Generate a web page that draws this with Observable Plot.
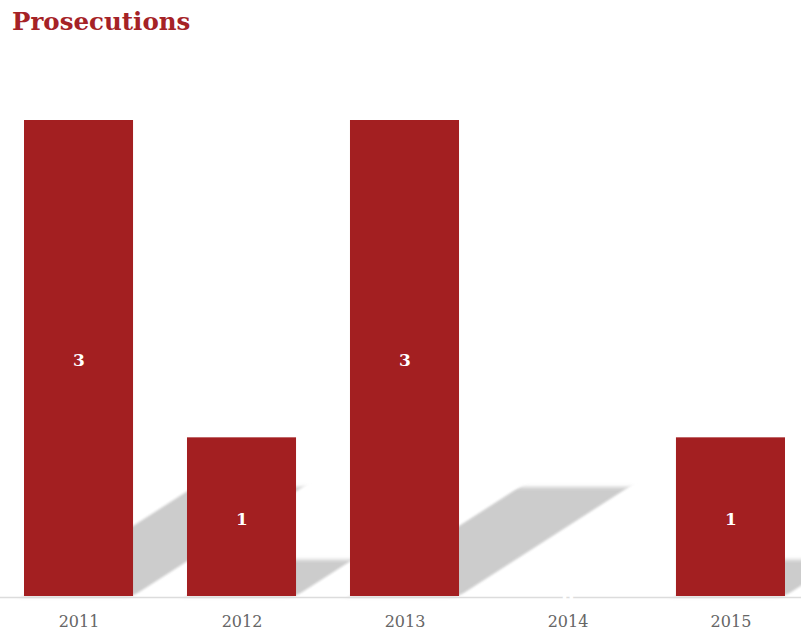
<!DOCTYPE html>
<html>
<head>
<meta charset="utf-8">
<script src="https://cdn.jsdelivr.net/npm/d3@7"></script>
<script src="https://cdn.jsdelivr.net/npm/@observablehq/plot@0.6"></script>
<style>
  html, body { margin: 0; padding: 0; background: #fff; }
  #title {
    height: 48px; box-sizing: border-box; padding: 8px 0 0 12px;
    font: bold 24.5px/28px "DejaVu Serif", serif; color: #a52226;
  }
</style>
</head>
<body>
<div id="title">Prosecutions</div>
<div id="chart"></div>
<script>
const years = ["2011", "2012", "2013", "2014", "2015"];
const prosecutions = [3, 1, 3, 0, 1];

const barColor = "#a31f21";
const shadowRatio = 0.229;

const data = years.map((year, i) => ({year, value: prosecutions[i]}));

const plot = Plot.plot({
  width: 801,
  height: 585,
  marginTop: 72,
  marginBottom: 37,
  marginLeft: 24,
  marginRight: 16,
  style: {fontFamily: "DejaVu Serif, serif", fontSize: "16px", color: "#666", background: "#fff", overflow: "visible"},
  x: {domain: years, paddingInner: 0.331, paddingOuter: 0, round: false, label: null, tickSize: 0, tickPadding: 19},
  y: {domain: [0, 3], axis: null},
  marks: [
    Plot.barY(data, {x: "year", y: d => d.value * shadowRatio, fill: "#cccccc"}),
    Plot.barY(data, {x: "year", y: "value", fill: barColor}),
    Plot.ruleY([0], {stroke: "#dcdcdc", strokeWidth: 1.5, insetLeft: -24, insetRight: -16, dy: 1}),
    Plot.text(data, {x: "year", y: d => d.value / 2, text: d => String(d.value), fill: "white", fontWeight: "bold", fontSize: 17, dy: 2})
  ]
});

// Turn the first bar layer into a slanted, blurred shadow anchored at the baseline
const by = plot.scale("y").apply(0);
const shadowGroup = plot.querySelectorAll('g[aria-label="bar"]')[0];
const wrap = document.createElementNS("http://www.w3.org/2000/svg", "g");
shadowGroup.parentNode.insertBefore(wrap, shadowGroup);
wrap.appendChild(shadowGroup);
wrap.setAttribute("transform", `translate(0,${by}) skewX(-57.3) translate(0,${-by})`);
wrap.style.filter = "blur(2px)";

document.getElementById("chart").appendChild(plot);
</script>
</body>
</html>
